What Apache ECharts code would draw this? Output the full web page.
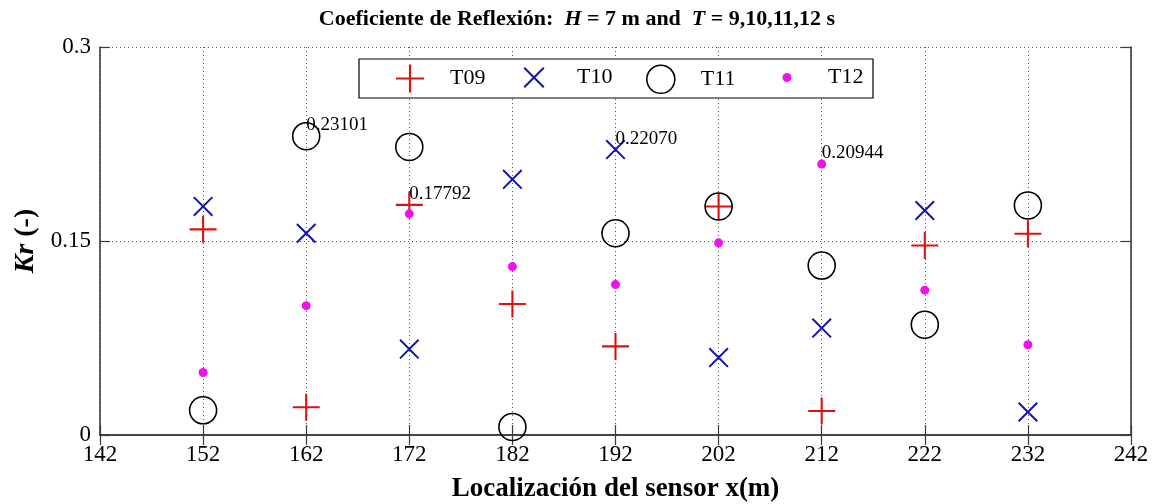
<!DOCTYPE html>
<html>
<head>
<meta charset="utf-8">
<script src="https://cdn.jsdelivr.net/npm/echarts@6/dist/echarts.min.js"></script>
<style>
  html, body { margin: 0; padding: 0; background: #fff; }
  #chart { width: 1154px; height: 504px; }
</style>
</head>
<body>
<div id="chart"></div>
<script>
// sensor positions and reflection coefficients
const sensorX = [152, 162, 172, 182, 192, 202, 212, 222, 232]
const kr09 = [0.159, 0.0214, 0.17792, 0.1013, 0.0685, 0.1767, 0.0186, 0.1465, 0.1556]
const kr10 = [0.1767, 0.156, 0.0664, 0.1977, 0.2207, 0.0599, 0.0827, 0.1736, 0.0178]
const kr11 = [0.0191, 0.23101, 0.2227, 0.0062, 0.156, 0.1767, 0.131, 0.0853, 0.1775]
const kr12 = [0.0483, 0.1, 0.171, 0.1302, 0.1163, 0.1486, 0.20944, 0.112, 0.0698]
const seriesNames = ['T09', 'T10', 'T11', 'T12']
// index of the annotated point in each series
const labelIndex = [2, 4, 1, 6]
const xTicks = [142, 152, 162, 172, 182, 192, 202, 212, 222, 232, 242]

const serif = 'Liberation Serif'
const plusPath = 'path://M0,12 H26 V14 H0 Z M12,0 H14 V26 H12 Z'
const crossPath = 'path://M0,1.4 L1.4,0 L20,18.6 L18.6,20 Z M18.6,0 L20,1.4 L1.4,20 L0,18.6 Z'

const chart = echarts.init(document.getElementById('chart'))

const buildData = (values, idx) =>
  values.map((v, i) => {
    if (i !== labelIndex[idx]) return [sensorX[i], v]
    return {
      value: [sensorX[i], v],
      label: {
        show: true,
        position: 'inside',
        align: 'left',
        verticalAlign: 'middle',
        offset: [0, -11],
        formatter: (p) => p.value[1].toFixed(5),
        color: '#000',
        fontFamily: serif,
        fontSize: 19,
      },
    }
  })

const markers = [
  { symbol: plusPath, size: 27, style: { color: '#e01010', opacity: 1 } },
  { symbol: crossPath, size: 20, style: { color: '#1414a8', opacity: 1 } },
  { symbol: 'circle', size: 27, style: { color: 'transparent', borderColor: '#000', borderWidth: 1.6, opacity: 1 } },
  { symbol: 'circle', size: 9, style: { color: '#f010f0', opacity: 1 } },
]
const allValues = [kr09, kr10, kr11, kr12]

// legend icon centres and sizes, text starts about 40px right of the icon centre
const legendCenter = [410, 534, 660, 787]
const legendIcon = [28, 21, 28, 9]
const legendTextGap = [40, 43, 40, 41]

const axisLine = { lineStyle: { color: '#3a3a3a', width: 1.6 } }
const tickStyle = { show: true, inside: true, length: 10, lineStyle: { color: '#3a3a3a', width: 1.2 } }
const gridLine = { show: true, lineStyle: { color: '#555', width: 1, type: [1, 3] } }

chart.setOption({
  animation: false,
  backgroundColor: '#fff',
  title: {
    text: 'Coeficiente de Reflexión:  {i|H} = 7 m and  {i|T} = 9,10,11,12 s',
    left: 'center',
    top: 3,
    textStyle: {
      fontFamily: serif,
      fontWeight: 'bold',
      fontSize: 22,
      color: '#000',
      rich: { i: { fontFamily: serif, fontWeight: 'bold', fontStyle: 'italic', fontSize: 22, color: '#000' } },
    },
  },
  graphic: [
    {
      type: 'rect',
      z: 3,
      shape: { x: 359, y: 59, width: 514, height: 39 },
      style: { fill: '#fff', stroke: '#000', lineWidth: 1.2 },
    },
  ],
  legend: seriesNames.map((name, i) => ({
    data: [name],
    left: legendCenter[i] - legendIcon[i] / 2,
    top: 78.5 - Math.max(legendIcon[i], 24) / 2,
    padding: 0,
    itemWidth: legendIcon[i],
    itemHeight: legendIcon[i],
    selectedMode: false,
    textStyle: {
      fontFamily: serif,
      fontSize: 22,
      color: '#000',
      padding: [0, 0, 0, legendTextGap[i] - legendIcon[i] / 2 - 5],
    },
    itemStyle: i === 2 ? { borderWidth: 1.6 } : {},
  })),
  grid: { left: 100, right: 23, top: 47, bottom: 69, outerBoundsMode: 'none' },
  xAxis: [
    {
      type: 'value',
      min: 142,
      max: 242,
      name: 'Localización del sensor x(m)',
      nameLocation: 'middle',
      nameGap: 41,
      nameTextStyle: { fontFamily: serif, fontWeight: 'bold', fontSize: 27, color: '#000' },
      axisLine,
      axisTick: { ...tickStyle, customValues: xTicks },
      axisLabel: { customValues: xTicks, fontFamily: serif, fontSize: 23, color: '#000', margin: 8 },
      splitLine: gridLine,
    },
    {
      type: 'value',
      position: 'top',
      min: 142,
      max: 242,
      axisLine,
      axisTick: { ...tickStyle, customValues: xTicks },
      axisLabel: { show: false, customValues: xTicks },
      splitLine: { show: false },
    },
  ],
  yAxis: [
    {
      type: 'value',
      min: 0,
      max: 0.3,
      interval: 0.15,
      name: '{i|Kr} (-)',
      nameLocation: 'middle',
      nameGap: 60,
      nameTextStyle: {
        fontFamily: serif,
        fontWeight: 'bold',
        fontSize: 28,
        color: '#000',
        rich: { i: { fontFamily: serif, fontWeight: 'bold', fontStyle: 'italic', fontSize: 28, color: '#000' } },
      },
      axisLine: { show: true, ...axisLine },
      axisTick: tickStyle,
      axisLabel: { fontFamily: serif, fontSize: 23, color: '#000', margin: 9 },
      splitLine: gridLine,
    },
    {
      type: 'value',
      position: 'right',
      min: 0,
      max: 0.3,
      interval: 0.15,
      axisLine: { show: true, ...axisLine },
      axisTick: tickStyle,
      axisLabel: { show: false },
      splitLine: { show: false },
    },
  ],
  series: seriesNames.map((name, i) => ({
    name,
    type: 'scatter',
    symbol: markers[i].symbol,
    symbolSize: markers[i].size,
    itemStyle: markers[i].style,
    emphasis: { disabled: true },
    z: 2 + i,
    data: buildData(allValues[i], i),
  })),
})
</script>
</body>
</html>
